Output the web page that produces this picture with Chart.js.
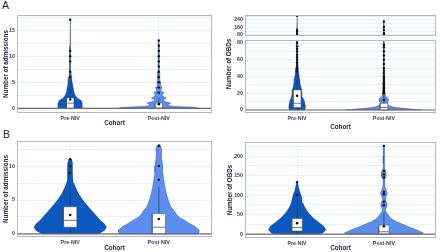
<!DOCTYPE html>
<html>
<head>
<meta charset="utf-8">
<script src="https://cdn.jsdelivr.net/npm/chart.js@4.4.1/dist/chart.umd.min.js"></script>
<style>
  body { margin: 0; background: #fff; width: 440px; height: 252px; position: relative; overflow: hidden; font-family: 'Liberation Sans', Arial, sans-serif; }
  canvas { position: absolute; }
  .tag { position: absolute; font-size: 10.5px; line-height: 1; color: #222; }
</style>
</head>
<body>
<div class="tag" style="left:2px;top:0px">A</div>
<div class="tag" style="left:3px;top:129px">B</div>
<canvas id="admA" width="216" height="128" style="left:0;top:0"></canvas>
<canvas id="obdA" width="220" height="132" style="left:220px;top:0"></canvas>
<canvas id="admB" width="216" height="126" style="left:0;top:126px"></canvas>
<canvas id="obdB" width="220" height="126" style="left:220px;top:126px"></canvas>
<script>
// cohorts on the x axis
const cohorts = ['Pre-NIV', 'Post-NIV'];
const xMin = 0.4, xMax = 2.6;

// ---- A: number of admissions ----
const admA_ticks = [0, 2.5, 5, 7.5, 10, 12.5, 15, 17.5];
const admA_preLevels = [0, 0.5, 1, 1.5, 1.8, 2, 2.5, 3, 4, 5, 6, 7, 7.5, 8, 10, 12, 17];
const admA_preWidths = [0.136, 0.136, 0.136, 0.125, 0.097, 0.080, 0.057, 0.045, 0.034, 0.023, 0.015, 0.009, 0.006, 0.005, 0.005, 0.003, 0];
const admA_postLevels = [0, 0.2, 0.4, 0.6, 0.8, 1, 1.2, 1.5, 1.8, 2, 2.2, 2.5, 2.8, 3, 3.2, 3.5, 3.8, 4, 4.2, 4.6, 5, 5.4, 6, 7, 8, 9, 10, 11, 12, 13];
const admA_postWidths = [0.455, 0.409, 0.159, 0.091, 0.114, 0.136, 0.091, 0.045, 0.068, 0.085, 0.057, 0.034, 0.051, 0.057, 0.040, 0.023, 0.032, 0.038, 0.025, 0.015, 0.023, 0.011, 0.014, 0.010, 0.009, 0.008, 0.007, 0.006, 0.006, 0];
const admA_q1 = [0, 0];
const admA_median = [1, 0];
const admA_q3 = [2, 1];
const admA_mean = [1.7, 0.8];
const admA_whiskerLow = [0, 0];
const admA_whiskerHigh = [5, 2];
const admA_preOutliers = [6, 7, 9, 10, 11, 17];
const admA_postOutliers = [3, 4, 5, 6, 7, 8, 9, 10, 11, 12, 13];

// ---- A: number of OBDs (broken axis) ----
const obdA_lowTicks = [0, 10, 20, 30, 40, 50, 60, 70, 80];
const obdA_highTicks = [80, 120, 160, 200, 240, 280];
const obdA_preLevels = [0, 4, 10, 15, 20, 25, 30, 35, 40, 45, 50, 55, 60, 70, 90, 140, 285];
const obdA_preWidths = [0.091, 0.097, 0.086, 0.068, 0.057, 0.051, 0.040, 0.034, 0.025, 0.019, 0.014, 0.008, 0.005, 0.003, 0.003, 0.003, 0];
const obdA_postLevels = [0, 1, 2, 3, 4, 5, 6, 8, 10, 12, 14, 16, 18, 22, 30, 40, 60, 80, 224];
const obdA_postWidths = [0.433, 0.342, 0.228, 0.148, 0.091, 0.068, 0.051, 0.040, 0.046, 0.055, 0.046, 0.029, 0.017, 0.011, 0.008, 0.006, 0.005, 0.003, 0];
const obdA_q1 = [3, 0];
const obdA_median = [8, 3];
const obdA_q3 = [24, 8];
const obdA_mean = [17, 12];
const obdA_whiskerLow = [0, 0];
const obdA_whiskerHigh = [45, 18];
const obdA_preOutliers = [46, 49, 52, 55, 57, 60, 63, 66, 70, 73, 76, 80, 83, 91, 115, 135, 285];
const obdA_postOutliers = [20, 21, 22, 23, 24, 25, 26, 27, 28, 29, 30, 31, 32, 33, 35, 37, 39, 41, 44, 47, 50, 55, 60, 65, 70, 75, 78, 86, 100, 134, 166, 224];

// ---- B: number of admissions ----
const admB_ticks = [0, 2.5, 5, 7.5, 10, 12.5];
const admB_preLevels = [0, 0.5, 1, 1.5, 2, 2.5, 3, 3.5, 4, 5, 6, 7, 7.5, 8, 9, 10, 10.5, 11, 11.1];
const admB_preWidths = [0.318, 0.386, 0.409, 0.386, 0.341, 0.307, 0.273, 0.239, 0.205, 0.142, 0.091, 0.057, 0.042, 0.032, 0.027, 0.027, 0.025, 0.017, 0];
const admB_postLevels = [0, 0.3, 0.6, 1.1, 1.5, 2, 2.5, 3, 3.5, 4, 5, 6, 7, 8, 9, 10, 11, 12, 12.5, 13, 13.2];
const admB_postWidths = [0.443, 0.455, 0.455, 0.409, 0.352, 0.295, 0.227, 0.193, 0.170, 0.136, 0.106, 0.085, 0.068, 0.057, 0.045, 0.045, 0.034, 0.028, 0.034, 0.023, 0];
const admB_q1 = [1, 0];
const admB_median = [2, 1];
const admB_q3 = [4, 3];
const admB_mean = [2.8, 2.2];
const admB_whiskerLow = [0, 0];
const admB_whiskerHigh = [7, 7];
const admB_preOutliers = [9, 10, 11];
const admB_postOutliers = [8, 10, 13];

// ---- B: number of OBDs ----
const obdB_ticks = [0, 25, 50, 75, 100, 125, 150, 175, 200, 225];
const obdB_preLevels = [0, 5, 12, 20, 30, 40, 50, 60, 70, 80, 90, 100, 110, 120, 130, 134];
const obdB_preWidths = [0.274, 0.308, 0.331, 0.308, 0.251, 0.194, 0.148, 0.114, 0.086, 0.068, 0.057, 0.046, 0.029, 0.017, 0.009, 0];
const obdB_postLevels = [0, 3, 10, 19, 25, 32, 38, 44, 50, 56, 62, 68, 75, 82, 88, 95, 104, 112, 120, 130, 140, 147, 153, 160, 168, 180, 200, 220, 226];
const obdB_postWidths = [0.433, 0.456, 0.388, 0.285, 0.217, 0.143, 0.097, 0.068, 0.046, 0.029, 0.017, 0.029, 0.038, 0.029, 0.015, 0.023, 0.040, 0.029, 0.014, 0.009, 0.011, 0.023, 0.029, 0.023, 0.011, 0.008, 0.008, 0.011, 0];
const obdB_q1 = [8, 0];
const obdB_median = [17, 6];
const obdB_q3 = [40, 23];
const obdB_mean = [28, 20];
const obdB_whiskerLow = [0, 0];
const obdB_whiskerHigh = [85, 55];
const obdB_preOutliers = [100, 133];
const obdB_postOutliers = [74, 83, 102, 108, 145, 153, 162, 226];

// styles
const fills = ['#0b58c1', '#5b8ef0'];
const gridColor = 'rgba(196, 232, 242, 0.9)';
const tickFont = { size: 5.3, weight: 'bold' };
const tickColor = '#3b3b5c';
const titleFont = { size: 6.3, weight: 'bold' };
const titleColor = '#26264f';
Chart.defaults.font.family = "'Liberation Sans', Arial, sans-serif";

// draws the grey panel border (and blanks the gap of the broken axis)
const framePlugin = {
    id: 'frame',
    beforeDatasetsDraw(chart, args, opts) {
        if (!opts.gap) return;
        const s = chart.scales[opts.gap];
        const a = chart.chartArea;
        chart.ctx.fillStyle = '#fff';
        chart.ctx.fillRect(a.left, s.top, a.right - a.left, s.bottom - s.top);
    },
    afterDatasetsDraw(chart, args, opts) {
        const {ctx, chartArea} = chart;
        ctx.save();
        ctx.strokeStyle = '#b6b9cb';
        ctx.lineWidth = 1;
        (opts.scales || []).forEach(id => {
            const s = chart.scales[id];
            ctx.strokeRect(chartArea.left + 0.5, s.top + 0.5, chartArea.right - chartArea.left - 1, s.bottom - s.top - 1);
        });
        ctx.restore();
    }
};

// keep the part of a violin between lo and hi
function cut(levels, widths, lo, hi) {
    const out = [];
    for (let i = 0; i < levels.length; i++) {
        const y = levels[i], w = widths[i];
        if (i > 0) {
            const y0 = levels[i - 1], w0 = widths[i - 1];
            [lo, hi].forEach(b => {
                if (y0 < b && y > b) out.push([b, w0 + (w - w0) * (b - y0) / (y - y0)]);
            });
        }
        if (y >= lo && y <= hi) out.push([y, w]);
    }
    return out;
}

function violin(center, levels, widths, lo, hi, color, yAxisID) {
    const kept = cut(levels, widths, lo, hi);
    const right = kept.map(([y, w]) => ({x: center + w, y}));
    const left = kept.slice().reverse().map(([y, w]) => ({x: center - w, y}));
    const data = right.concat(left);
    if (data.length) data.push(data[0]);
    return {data, yAxisID, showLine: true, fill: 'shape', backgroundColor: color,
        borderColor: 'rgba(25, 25, 50, 0.55)', borderWidth: 0.5, pointRadius: 0, order: 5};
}

function panelSets(p, yAxisID, lo, hi, withBox) {
    const sets = [];
    [0, 1].forEach(i => {
        const c = i + 1;
        sets.push(violin(c, p.levels[i], p.widths[i], lo, hi, fills[i], yAxisID));
        sets.push({
            data: p.outliers[i].filter(v => v >= lo && v <= hi).map(v => ({x: c, y: v})),
            yAxisID, pointRadius: 1.2, pointBackgroundColor: '#111', pointBorderWidth: 0, order: 1
        });
        if (!withBox) return;
        const bw = p.boxHalf;
        sets.push({
            data: [{x: c, y: p.low[i]}, {x: c, y: p.high[i]}],
            yAxisID, showLine: true, borderColor: '#333', borderWidth: 0.7, pointRadius: 0, order: 4
        });
        sets.push({
            data: [{x: c - bw, y: p.q1[i]}, {x: c + bw, y: p.q1[i]}, {x: c + bw, y: p.q3[i]}, {x: c - bw, y: p.q3[i]}, {x: c - bw, y: p.q1[i]}],
            yAxisID, showLine: true, fill: 'shape', backgroundColor: '#fff', borderColor: '#555', borderWidth: 0.6, pointRadius: 0, order: 3
        });
        sets.push({
            data: [{x: c - bw, y: p.median[i]}, {x: c + bw, y: p.median[i]}],
            yAxisID, showLine: true, borderColor: '#555', borderWidth: 0.8, pointRadius: 0, order: 2
        });
        sets.push({
            data: [{x: c, y: p.mean[i]}],
            yAxisID, pointRadius: 1.3, pointBackgroundColor: '#111', pointBorderWidth: 0, order: 1
        });
    });
    if (withBox) {
        sets.push({
            data: [{x: xMin, y: 0}, {x: xMax, y: 0}],
            yAxisID, showLine: true, borderColor: '#6a6a6a', borderWidth: 1.2, pointRadius: 0, order: 0
        });
    }
    return sets;
}

function xScale(height, titlePad) {
    return {
        type: 'linear', min: xMin, max: xMax,
        afterBuildTicks: s => { s.ticks = cohorts.map((_, i) => ({value: i + 1})); },
        afterFit: s => { s.height = height; },
        ticks: {callback: v => cohorts[v - 1], font: tickFont, color: tickColor, padding: 2, maxRotation: 0, autoSkip: false},
        grid: {color: gridColor, lineWidth: 0.6, drawTicks: false},
        border: {display: false},
        title: {display: true, text: 'Cohort', font: titleFont, color: titleColor, padding: {top: 0, bottom: titlePad}}
    };
}

function yScale(min, max, ticks, major, width, title, titlePad) {
    return {
        type: 'linear', position: 'left', min, max,
        afterBuildTicks: s => { s.ticks = ticks.map(v => ({value: v})); },
        afterFit: s => { s.width = width; },
        ticks: {callback: v => (v % major === 0 ? v : ''), font: tickFont, color: tickColor, padding: 2, autoSkip: false},
        grid: {color: gridColor, lineWidth: 0.6, drawTicks: false},
        border: {display: false},
        title: {display: !!title, text: title, font: titleFont, color: titleColor, padding: {top: titlePad, bottom: 0}}
    };
}

function makeChart(id, sets, scales, frame, padding) {
    return new Chart(document.getElementById(id), {
        type: 'scatter',
        data: {datasets: sets},
        options: {
            responsive: false,
            animation: false,
            layout: {padding},
            plugins: {legend: {display: false}, tooltip: {enabled: false}, frame},
            scales
        },
        plugins: [framePlugin]
    });
}

// A, admissions
const admA = {levels: [admA_preLevels, admA_postLevels], widths: [admA_preWidths, admA_postWidths],
    q1: admA_q1, median: admA_median, q3: admA_q3, mean: admA_mean, low: admA_whiskerLow, high: admA_whiskerHigh,
    outliers: [admA_preOutliers, admA_postOutliers], boxHalf: 0.042};
makeChart('admA', panelSets(admA, 'y', -0.9, 17.9, true),
    {x: xScale(15, 1.4), y: yScale(-0.9, 17.9, admA_ticks, 5, 17, 'Number of admissions', 2)},
    {scales: ['y']}, {top: 15, right: 4, left: 0, bottom: 0});

// A, OBDs with a broken y axis (stacked scales)
const obdA = {levels: [obdA_preLevels, obdA_postLevels], widths: [obdA_preWidths, obdA_postWidths],
    q1: obdA_q1, median: obdA_median, q3: obdA_q3, mean: obdA_mean, low: obdA_whiskerLow, high: obdA_whiskerHigh,
    outliers: [obdA_preOutliers, obdA_postOutliers], boxHalf: 0.045};
const lowMax = 83.6, highMin = 69;
makeChart('obdA', panelSets(obdA, 'yLow', -3.6, lowMax, true).concat(panelSets(obdA, 'yHigh', highMin, 293, false)
        .map(d => { if (d.pointRadius > 0) d.data = d.data.filter(p => p.y > lowMax); return d; })),
    {
        x: xScale(19, 1.4),
        yLow: Object.assign(yScale(-3.6, lowMax, obdA_lowTicks, 20, 11, '', 0), {stack: 'obd', stackWeight: 73}),
        yGap: {type: 'linear', position: 'left', stack: 'obd', stackWeight: 4, afterFit: s => { s.width = 11; },
            ticks: {display: false}, grid: {display: false}, border: {display: false}},
        yHigh: Object.assign(yScale(highMin, 293, obdA_highTicks, 80, 11, '', 0), {stack: 'obd', stackWeight: 21}),
        yTitle: {type: 'linear', position: 'left', weight: 1, afterFit: s => { s.width = 14; },
            ticks: {display: false}, grid: {display: false}, border: {display: false},
            title: {display: true, text: 'Number of OBDs', font: titleFont, color: titleColor, padding: {top: 5.4, bottom: 0}}}
    },
    {scales: ['yLow', 'yHigh'], gap: 'yGap'}, {top: 15, right: 2, left: 0, bottom: 0});

// B, admissions
const admB = {levels: [admB_preLevels, admB_postLevels], widths: [admB_preWidths, admB_postWidths],
    q1: admB_q1, median: admB_median, q3: admB_q3, mean: admB_mean, low: admB_whiskerLow, high: admB_whiskerHigh,
    outliers: [admB_preOutliers, admB_postOutliers], boxHalf: 0.075};
makeChart('admB', panelSets(admB, 'y', -0.45, 13.7, true),
    {x: xScale(15, 0.4), y: yScale(-0.45, 13.7, admB_ticks, 5, 17, 'Number of admissions', 2)},
    {scales: ['y']}, {top: 15, right: 4, left: 0, bottom: 0});

// B, OBDs
const obdB = {levels: [obdB_preLevels, obdB_postLevels], widths: [obdB_preWidths, obdB_postWidths],
    q1: obdB_q1, median: obdB_median, q3: obdB_q3, mean: obdB_mean, low: obdB_whiskerLow, high: obdB_whiskerHigh,
    outliers: [obdB_preOutliers, obdB_postOutliers], boxHalf: 0.06};
makeChart('obdB', panelSets(obdB, 'y', -10, 236, true),
    {x: xScale(14, 0.4), y: yScale(-10, 236, obdB_ticks, 50, 25, 'Number of OBDs', 6.4)},
    {scales: ['y']}, {top: 16, right: 2, left: 0, bottom: 0});
</script>
</body>
</html>
